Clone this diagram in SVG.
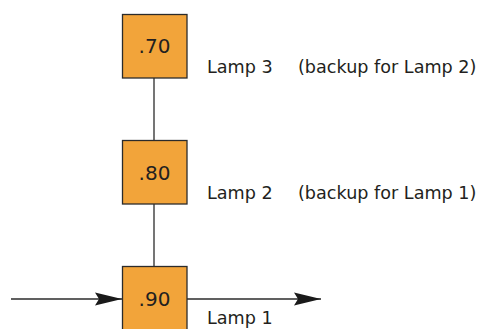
<svg xmlns="http://www.w3.org/2000/svg" width="482" height="329" viewBox="0 0 482 329">
<style>
.box{fill:#F2A43A;stroke:#2b2b2b;stroke-width:1.3}
.num{font-family:"DejaVu Sans",sans-serif;font-size:20px;fill:#231f20;text-anchor:middle}
.lbl{font-family:"DejaVu Sans",sans-serif;font-size:17.6px;fill:#231f20}
.ln{stroke:#2b2b2b;stroke-width:1.3;fill:none}
</style>
<defs>
<marker id="arr" markerWidth="28" markerHeight="14" refX="27" refY="7" orient="auto" markerUnits="userSpaceOnUse">
<path d="M0,0.5 L27,7 L0,13.5 L4,7 Z" fill="#1a1a1a"/>
</marker>
</defs>
<rect width="482" height="329" fill="#ffffff"/>
<g id="connectors">
<line class="ln" x1="154" y1="78" x2="154" y2="140"/>
<line class="ln" x1="154" y1="204" x2="154" y2="266"/>
<line class="ln" x1="11" y1="299" x2="122" y2="299" marker-end="url(#arr)"/>
<line class="ln" x1="187" y1="299" x2="321" y2="299" marker-end="url(#arr)"/>
</g>
<g id="lamp3">
<rect class="box" x="122.5" y="14.5" width="64.5" height="63.5"/>
<text class="num" x="154.5" y="53">.70</text>
<text class="lbl" x="207" y="73">Lamp 3</text>
<text class="lbl" x="298" y="73">(backup for Lamp 2)</text>
</g>
<g id="lamp2">
<rect class="box" x="122.5" y="140.5" width="64.5" height="63.5"/>
<text class="num" x="154.5" y="180">.80</text>
<text class="lbl" x="207" y="199">Lamp 2</text>
<text class="lbl" x="298" y="199">(backup for Lamp 1)</text>
</g>
<g id="lamp1">
<rect class="box" x="122.5" y="266.5" width="64.5" height="70"/>
<text class="num" x="154.5" y="306">.90</text>
<text class="lbl" x="207" y="324">Lamp 1</text>
</g>
</svg>
